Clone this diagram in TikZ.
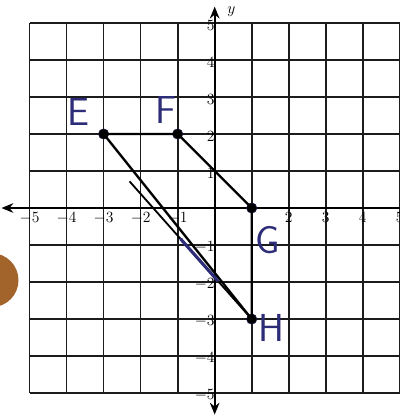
\documentclass[tikz,border=0pt]{standalone}
\usepackage{tikz}
\usetikzlibrary{arrows.meta,positioning,calc}
\definecolor{InkNavy}{HTML}{2C2C78}
\definecolor{GridDark}{HTML}{1C1C1C}
\definecolor{PunchBrown}{HTML}{A3642C}
\tikzset{
  gridline/.style={line width=1.3pt,draw=GridDark},
  axisarrow/.style={-{Stealth[length=3.2mm,width=2.6mm]},line width=1.4pt,draw=black},
  axisboth/.style={{Stealth[length=3.2mm,width=2.6mm]}-{Stealth[length=3.2mm,width=2.6mm]},line width=1.4pt,draw=black},
  ticklbl/.style={font=\large,inner sep=1pt},
  ptdot/.style={circle,fill=black,draw=InkNavy!60!black,inner sep=0pt,minimum size=2.8mm},
  polyline/.style={line width=1.8pt,draw=black,line join=round},
  inkline/.style={line width=2.4pt,draw=InkNavy,line cap=round},
  handletter/.style={font=\sffamily\fontsize{30}{32}\selectfont,text=InkNavy,inner sep=0pt}
}

\begin{document}
\begin{tikzpicture}
\useasboundingbox (-5.80,-5.70) rectangle (4.98,5.62);
% hole punch
\fill[PunchBrown] (-6.03,-1.95) circle (0.73);

\draw[gridline] (-5,-5) grid (5,5);
\coordinate (xend) at (5.2,0);
\coordinate (xtip) at (-5.76,0);
\coordinate (ybot) at (0,-5.58);
\coordinate (ytop) at (0,5.44);
\draw[axisarrow] (xend) -- (xtip);
\draw[axisboth] (ybot) -- (ytop);
\node[font=\large,inner sep=1pt] (ylbl) at (0.45,5.3) {$y$};

\foreach \x in {-5,-4,-3,-2,-1,2,3,4,5}
  \node[ticklbl,below] (xl\x) at (\x,-0.08) {$\x$};
\foreach \y in {-5,-4,-3,-2,-1,1,2,3,4,5}
  \node[ticklbl,left] (yl\y) at (0.04,\y-0.06) {$\y$};

\node[ptdot] (E) at (-3,2) {};
\node[ptdot] (F) at (-1,2) {};
\node[ptdot] (G) at (1,0) {};
\node[ptdot] (H) at (1,-3) {};
\draw[polyline] (E.center) -- (F.center) -- (G.center) -- (H.center) -- (E.center);
% second stroke along EH
\coordinate (EHs) at (-2.3,0.72);
\draw[polyline,line width=1.4pt] (EHs) -- (H.center);
\draw[inkline] ($(EHs)!0.42!(H)$) -- ($(EHs)!0.72!(H)$);

\node[handletter] (Elbl) at (-3.68,2.6) {E};
\node[handletter] (Flbl) at (-1.32,2.65) {F};
\node[handletter] (Glbl) at (1.42,-0.86) {G};
\node[handletter] (Hlbl) at (1.52,-3.24) {H};
\end{tikzpicture}
\end{document}
